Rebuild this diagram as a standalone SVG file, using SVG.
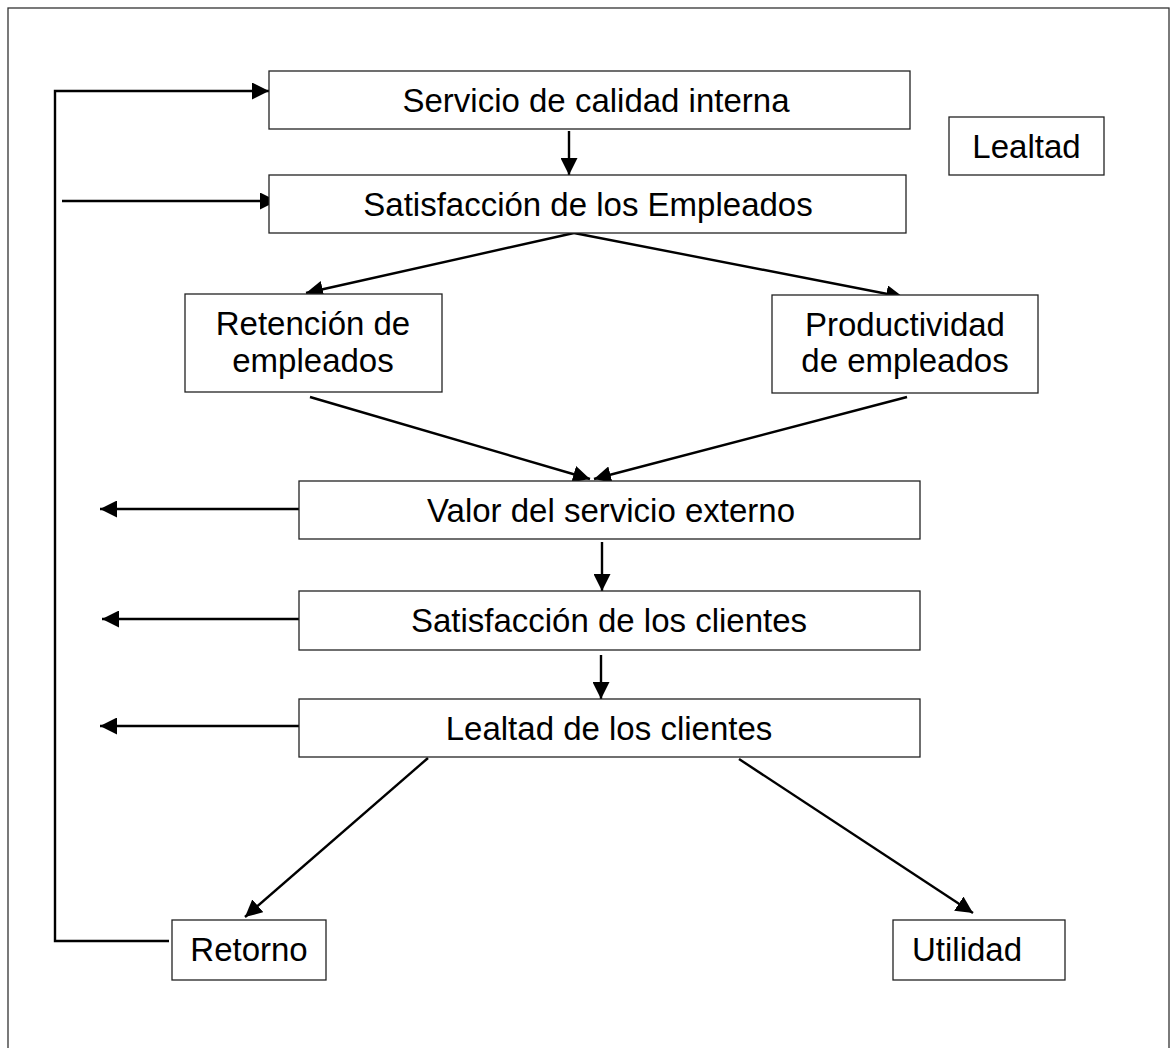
<svg xmlns="http://www.w3.org/2000/svg" width="1172" height="1048" viewBox="0 0 1172 1048">
<style>
.box{fill:#fff;stroke:#222;stroke-width:1.3}
.t{font-family:"Liberation Sans",Arial,sans-serif;font-size:33px;fill:#000;text-anchor:middle}
.c{fill:none;stroke:#000;stroke-width:2.4}
.a{marker-end:url(#ah)}
</style>
<defs>
<marker id="ah" viewBox="0 0 16 16" refX="16" refY="8" markerWidth="17" markerHeight="17" markerUnits="userSpaceOnUse" orient="auto">
<path d="M0,0 L16,8 L0,16 z" fill="#000"/>
</marker>
</defs>
<rect x="0" y="0" width="1172" height="1048" fill="#fff"/>
<rect id="border" x="8" y="8" width="1161" height="1060" fill="none" stroke="#333" stroke-width="1.3"/>
<g id="connectors">
<path class="c a" d="M169,941 H55 V91 H269"/>
<path class="c a" d="M62,201 H277"/>
<path class="c a" d="M569,131 V175"/>
<path class="c a" d="M574,233 L306,293"/>
<path class="c a" d="M574,233 L903,297"/>
<path class="c a" d="M310,397 L590,479"/>
<path class="c a" d="M907,397 L594,479"/>
<path class="c a" d="M299,509 H100"/>
<path class="c a" d="M302,619 H102"/>
<path class="c a" d="M299,726 H100"/>
<path class="c a" d="M602,542 V591"/>
<path class="c a" d="M601,655 V699"/>
<path class="c a" d="M428,758 L245,917"/>
<path class="c a" d="M739,759 L973,913"/>
</g>
<g id="n1"><rect class="box" x="269" y="71" width="641" height="58"/><text class="t" x="596" y="112">Servicio de calidad interna</text></g>
<g id="n2"><rect class="box" x="269" y="175" width="637" height="58"/><text class="t" x="588" y="216">Satisfacción de los Empleados</text></g>
<g id="lealtad"><rect class="box" x="949" y="117" width="155" height="58"/><text class="t" x="1026.5" y="158">Lealtad</text></g>
<g id="n3"><rect class="box" x="185" y="294" width="257" height="98"/><text class="t" x="313" y="335">Retención de</text><text class="t" x="313" y="372">empleados</text></g>
<g id="n4"><rect class="box" x="772" y="295" width="266" height="98"/><text class="t" x="905" y="336">Productividad</text><text class="t" x="905" y="372">de empleados</text></g>
<g id="n5"><rect class="box" x="299" y="481" width="621" height="58"/><text class="t" x="611" y="522">Valor del servicio externo</text></g>
<g id="n6"><rect class="box" x="299" y="591" width="621" height="59"/><text class="t" x="609" y="632">Satisfacción de los clientes</text></g>
<g id="n7"><rect class="box" x="299" y="699" width="621" height="58"/><text class="t" x="609" y="740">Lealtad de los clientes</text></g>
<g id="n8"><rect class="box" x="172" y="920" width="154" height="60"/><text class="t" x="249" y="961">Retorno</text></g>
<g id="n9"><rect class="box" x="893" y="920" width="172" height="60"/><text class="t" x="967" y="961">Utilidad</text></g>
</svg>
